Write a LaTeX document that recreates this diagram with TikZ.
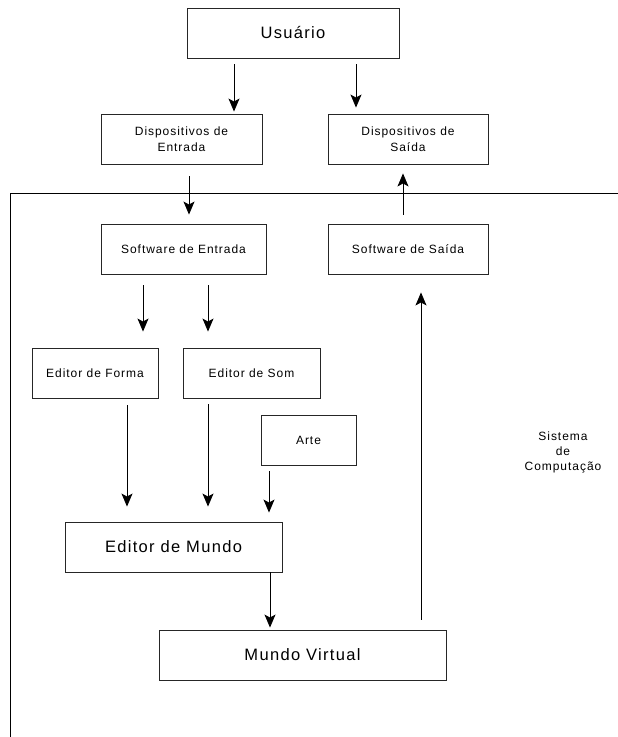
\documentclass[tikz,border=0pt]{standalone}
\usepackage{fontspec}
\setmainfont{Liberation Sans}[LetterSpace=8]
\usetikzlibrary{arrows.meta}
\begin{document}
\begin{tikzpicture}[x=1pt,y=-1pt,
  box/.style={draw=black!85, line width=0.9pt, inner sep=0pt, align=center,
    minimum height=50pt, font=\fontsize{12}{16.5}\selectfont},
  bigbox/.style={box, font=\fontsize{16.5}{20}\selectfont},
  arr/.style={line width=0.9pt, -{Stealth[length=13pt,width=11pt,inset=3pt]}},
  frameline/.style={line width=1pt},
  label/.style={align=center, inner sep=0pt, font=\fontsize{12}{15}\selectfont}]
\useasboundingbox (0,0) rectangle (618,737);

% system boundary
\draw[frameline] (618,193) -- (10.5,193) -- (10.5,737);

% boxes
\node[bigbox, minimum width=212pt] (usr)  at (293,33)    {Usuário};
\node[box, minimum width=161pt]    (de)   at (181.5,139) {Dispositivos de\\Entrada};
\node[box, minimum width=160pt]    (ds)   at (408,139)   {Dispositivos de\\Saída};
\node[box, minimum width=165pt]    (se)   at (183.5,249) {Software de Entrada};
\node[box, minimum width=160pt]    (ss)   at (408,249)   {Software de Saída};
\node[box, minimum width=126pt]    (ef)   at (95,373)    {Editor de Forma};
\node[box, minimum width=137pt]    (es)   at (251.5,373) {Editor de Som};
\node[box, minimum width=95pt]     (arte) at (308.5,440) {Arte};
\node[bigbox, minimum width=217pt] (em)   at (173.5,547) {Editor de Mundo};
\node[bigbox, minimum width=287pt] (mv)   at (302.5,655) {Mundo Virtual};
\node[label] (sis) at (563,452) {Sistema\\de\\Computação};

% vertical guides for the arrows
\coordinate (xa) at (234,0);
\coordinate (xb) at (356,0);
\coordinate (xc) at (189,0);
\coordinate (xd) at (403,0);
\coordinate (xe) at (143,0);
\coordinate (xf) at (208,0);
\coordinate (xg) at (127,0);
\coordinate (xh) at (269,0);
\coordinate (xi) at (270,0);
\coordinate (xj) at (421,0);

% arrows
\draw[arr, shorten <=6pt, shorten >=2pt]  (usr.south -| xa) -- (de.north -| xa);
\draw[arr, shorten <=6pt, shorten >=6pt]  (usr.south -| xb) -- (ds.north -| xb);
\draw[arr, shorten <=12pt, shorten >=9pt] (de.south -| xc) -- (se.north -| xc);
\draw[arr, shorten <=9pt, shorten >=9pt]  (ss.north -| xd) -- (ds.south -| xd);
\draw[arr, shorten <=11pt, shorten >=16pt] (se.south -| xe) -- (ef.north -| xe);
\draw[arr, shorten <=11pt, shorten >=16pt] (se.south -| xf) -- (es.north -| xf);
\draw[arr, shorten <=7pt, shorten >=15pt] (ef.south -| xg) -- (em.north -| xg);
\draw[arr, shorten <=6pt, shorten >=15pt] (es.south -| xf) -- (em.north -| xf);
\draw[arr, shorten <=6pt, shorten >=9pt]  (arte.south -| xh) -- (em.north -| xh);
\draw[arr, shorten >=2pt]                 (em.south -| xi) -- (mv.north -| xi);
\draw[arr, shorten <=10pt, shorten >=18pt] (mv.north -| xj) -- (ss.south -| xj);
\end{tikzpicture}
\end{document}
